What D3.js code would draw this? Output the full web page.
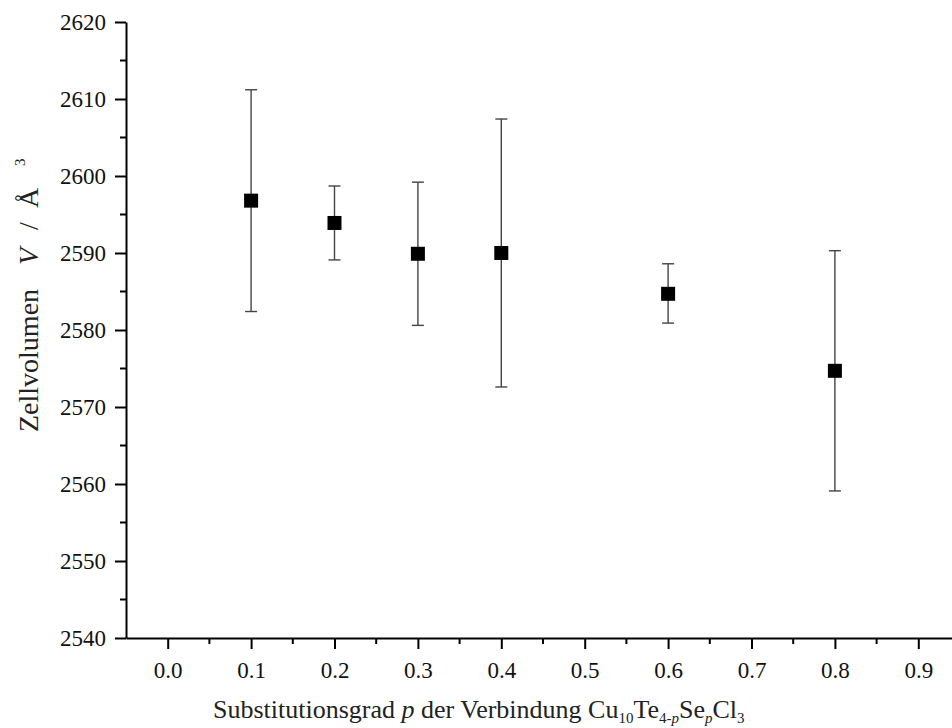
<!DOCTYPE html>
<html>
<head>
<meta charset="utf-8">
<script src="https://cdn.jsdelivr.net/npm/d3@7"></script>
<style>
  html, body { margin: 0; padding: 0; background: #fff; }
  svg { display: block; font-family: "Liberation Serif", "Times New Roman", serif; }
</style>
</head>
<body>
<svg id="chart" width="952" height="728"></svg>
<script>
// data
const pValues = [0.1, 0.2, 0.3, 0.4, 0.6, 0.8];
const volumes = [2596.8, 2593.9, 2589.9, 2590.0, 2584.7, 2574.7];
const errUpper = [2611.2, 2598.7, 2599.2, 2607.4, 2588.6, 2590.3];
const errLower = [2582.4, 2589.1, 2580.6, 2572.6, 2580.9, 2559.1];
const xTicks = [0.0, 0.1, 0.2, 0.3, 0.4, 0.5, 0.6, 0.7, 0.8, 0.9];
const yTicks = [2540, 2550, 2560, 2570, 2580, 2590, 2600, 2610, 2620];

const points = pValues.map((p, i) => ({
  p, v: volumes[i], hi: errUpper[i], lo: errLower[i]
}));

const svg = d3.select("#chart");
const plotLeft = 126, plotTop = 22, plotBottom = 638;

const x = d3.scaleLinear().domain([-0.05, 0.95]).range([plotLeft, plotLeft + 834]);
const y = d3.scaleLinear().domain([2540, 2620]).range([plotBottom, plotTop]);

// x axis
const xAxis = svg.append("g").attr("transform", `translate(0,${plotBottom})`);
xAxis.call(d3.axisBottom(x).tickValues(xTicks).tickFormat(d3.format(".1f"))
  .tickSize(11).tickSizeOuter(0));
xAxis.selectAll(".tick line").attr("stroke-width", 2);
xAxis.select(".domain").attr("stroke-width", 2);
xAxis.selectAll(".tick text").attr("font-size", 23).attr("font-family", "Liberation Serif")
  .attr("dy", "0.71em").attr("y", 24).attr("fill", "#111");
const xMinor = d3.range(0, 10).map(i => -0.05 + i * 0.1).filter(v => v > -0.04);
xAxis.selectAll(".minor").data(xMinor).join("line").attr("class", "minor")
  .attr("x1", d => x(d)).attr("x2", d => x(d)).attr("y1", 0).attr("y2", 6)
  .attr("stroke", "#000").attr("stroke-width", 2);

// y axis
const yAxis = svg.append("g").attr("transform", `translate(${plotLeft},0)`);
yAxis.call(d3.axisLeft(y).tickValues(yTicks).tickFormat(d3.format("d"))
  .tickSize(11).tickSizeOuter(0));
yAxis.selectAll(".tick line").attr("stroke-width", 2);
yAxis.select(".domain").attr("stroke-width", 2);
yAxis.selectAll(".tick text").attr("font-size", 23).attr("font-family", "Liberation Serif")
  .attr("x", -20).attr("fill", "#111");
const yMinor = d3.range(2545, 2620, 10);
yAxis.selectAll(".minor").data(yMinor).join("line").attr("class", "minor")
  .attr("x1", -6).attr("x2", 0).attr("y1", d => y(d)).attr("y2", d => y(d))
  .attr("stroke", "#000").attr("stroke-width", 2);

// error bars
const errG = svg.append("g").attr("stroke", "#444").attr("stroke-width", 1.4);
errG.selectAll(".bar").data(points).join("line").attr("class", "bar")
  .attr("x1", d => x(d.p)).attr("x2", d => x(d.p))
  .attr("y1", d => y(d.hi)).attr("y2", d => y(d.lo));
errG.selectAll(".capHi").data(points).join("line").attr("class", "capHi")
  .attr("x1", d => x(d.p) - 6).attr("x2", d => x(d.p) + 6)
  .attr("y1", d => y(d.hi)).attr("y2", d => y(d.hi));
errG.selectAll(".capLo").data(points).join("line").attr("class", "capLo")
  .attr("x1", d => x(d.p) - 6).attr("x2", d => x(d.p) + 6)
  .attr("y1", d => y(d.lo)).attr("y2", d => y(d.lo));

// markers
const s = 14;
svg.append("g").selectAll("rect").data(points).join("rect")
  .attr("x", d => x(d.p) - s / 2).attr("y", d => y(d.v) - s / 2)
  .attr("width", s).attr("height", s).attr("fill", "#000");

// x title
const xt = svg.append("text").attr("x", 213).attr("y", 718)
  .attr("font-size", 26).attr("fill", "#222");
xt.append("tspan").text("Substitutionsgrad ");
xt.append("tspan").attr("font-style", "italic").text("p");
xt.append("tspan").text(" der Verbindung Cu");
xt.append("tspan").attr("font-size", 15).attr("dy", 5).text("10");
xt.append("tspan").attr("dy", -5).text("Te");
xt.append("tspan").attr("font-size", 15).attr("dy", 5).text("4-");
xt.append("tspan").attr("font-size", 15).attr("font-style", "italic").text("p");
xt.append("tspan").attr("dy", -5).text("Se");
xt.append("tspan").attr("font-size", 15).attr("dy", 5).attr("font-style", "italic").text("p");
xt.append("tspan").attr("dy", -5).text("Cl");
xt.append("tspan").attr("font-size", 15).attr("dy", 5).text("3");

// y title (rotated, laid out along the text direction)
const yt = svg.append("text").attr("transform", "translate(38,432) rotate(-90)")
  .attr("font-size", 28).attr("fill", "#222");
yt.append("tspan").attr("x", 0).text("Zellvolumen");
yt.append("tspan").attr("x", 167).attr("font-style", "italic").text("V");
yt.append("tspan").attr("x", 202).text("/");
yt.append("tspan").attr("x", 224).text("Å");
yt.append("tspan").attr("x", 266).attr("dy", -13).attr("font-size", 15).text("3");
</script>
</body>
</html>
